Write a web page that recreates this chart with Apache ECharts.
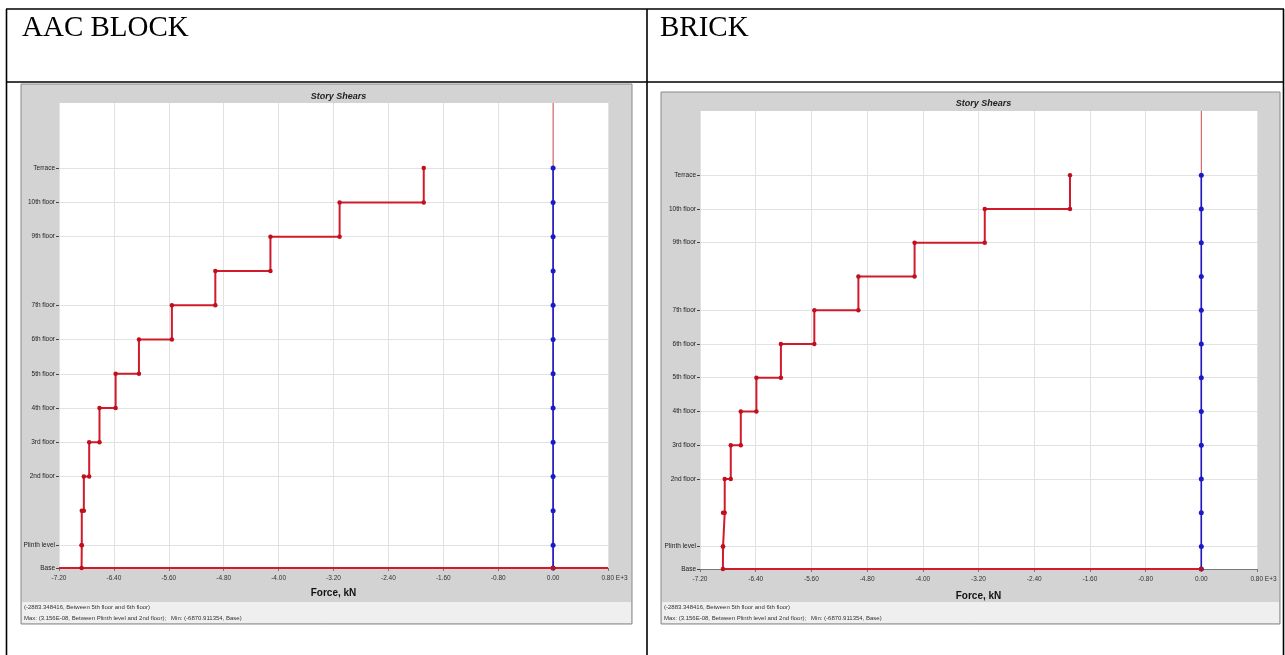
<!DOCTYPE html>
<html><head><meta charset="utf-8">
<script src="https://cdn.jsdelivr.net/npm/echarts@6/dist/echarts.min.js"></script>
<style>html,body{margin:0;padding:0;background:#fff}#c{width:1285px;height:655px}</style>
</head><body><div id="c"></div>
<script>
// ---- data ----
const levelNames = ['Base','Plinth level','1st floor','2nd floor','3rd floor','4th floor','5th floor','6th floor','7th floor','8th floor','9th floor','10th floor','Terrace'];
const levelElev = [0, 2, 5, 8, 11, 14, 17, 20, 23, 26, 29, 32, 35];
const labeledLevels = ['Base','Plinth level','2nd floor','3rd floor','4th floor','5th floor','6th floor','7th floor','9th floor','10th floor','Terrace'];
// story shear (kN), story by story from Base upward (Plinth-Base ... Terrace-10th)
const aacShear = [-6871, -6868, -6838, -6760, -6610, -6375, -6035, -5555, -4922, -4119, -3111, -1885];
const brickShear = [-6871, -6869, -6845, -6758, -6614, -6390, -6038, -5558, -4925, -4118, -3110, -1886];
const xTickValues = [-7200, -6400, -5600, -4800, -4000, -3200, -2400, -1600, -800, 0, 800];
const yAxisTop = 40.7;
const cellTitles = ['AAC BLOCK', 'BRICK'];
const chartTitle = 'Story Shears';
const xAxisName = 'Force, kN';
const statusLines = ['(-2883.348416, Between 5th floor and 6th floor)',
  'Max: (3.156E-08, Between Plinth level and 2nd floor);   Min: (-6870.911354, Base)'];

// ---- helpers ----
function stepPath(shear) {
  const pts = [];
  for (let i = shear.length - 1; i >= 0; i--) {
    pts.push([shear[i], levelElev[i + 1]]);
    pts.push([shear[i], levelElev[i]]);
  }
  pts.push([0, levelElev[0]]);
  return pts;
}
const zeroPath = levelElev.map(e => [0, e]);
const labeledElev = labeledLevels.map(n => levelElev[levelNames.indexOf(n)]);
const xMin = xTickValues[0], xMax = xTickValues[xTickValues.length - 1];

const RED = '#d01c2a', RED_DOT = '#c0101e', BLUE = '#1a1ac8', ZERO_RED = '#d65050';
const lblFont = 'Liberation Sans, Arial, sans-serif';

const panels = [
  { px: 21, py: 84, pw: 611, ph: 540, gl: 59, gt: 103, gw: 549, gh: 465, nameGap: 20, titleY: 87, fullBase: true },
  { px: 661, py: 92, pw: 619, ph: 532, gl: 700, gt: 111, gw: 557, gh: 458, nameGap: 22, titleY: 94, fullBase: false }
];

function xAxisOpt(i) {
  return {
    type: 'value', gridIndex: i, min: xMin, max: xMax, interval: 800,
    name: xAxisName, nameLocation: 'middle', nameGap: panels[i].nameGap,
    nameTextStyle: { fontFamily: lblFont, fontWeight: 'bold', fontSize: 10, color: '#111' },
    axisLine: { show: true, onZero: false, lineStyle: { color: '#777', width: 1 } },
    axisTick: { show: true, length: 3, lineStyle: { color: '#777' } },
    axisLabel: {
      fontFamily: lblFont, fontSize: 6.5, color: '#333', margin: 7,
      formatter: v => {
        const s = (v / 1000).toFixed(2);
        return v === xMax ? '{e|' + s + ' E+3}' : s;
      },
      rich: { e: { fontFamily: lblFont, fontSize: 6.5, color: '#333', padding: [0, 0, 0, 13] } }
    },
    splitLine: { show: true, lineStyle: { color: '#e2e2e2', width: 1 } }
  };
}
function yAxisOpt(i) {
  return {
    type: 'value', gridIndex: i, min: 0, max: yAxisTop,
    axisLine: { show: false, onZero: false },
    axisTick: { show: true, length: 3, customValues: labeledElev, lineStyle: { color: '#444' } },
    axisLabel: {
      customValues: labeledElev, fontFamily: lblFont, fontSize: 6.5, color: '#222', margin: 4,
      formatter: v => levelNames[levelElev.indexOf(v)]
    },
    splitLine: { show: true, lineStyle: { color: '#e2e2e2', width: 1 } }
  };
}

const series = [];
[aacShear, brickShear].forEach((sh, i) => {
  // zero reference line at x = 0 over the full height (beneath data)
  series.push({
    type: 'line', xAxisIndex: i, yAxisIndex: i, silent: true, z: 2,
    data: [[0, 0], [0, yAxisTop]], symbol: 'none',
    lineStyle: { color: ZERO_RED, width: 1 }
  });
  if (panels[i].fullBase) {
    series.push({
      type: 'line', xAxisIndex: i, yAxisIndex: i, silent: true, z: 2,
      data: [[xMin, 0], [xMax, 0]], symbol: 'none',
      lineStyle: { color: RED, width: 2 }
    });
  }
  series.push({
    type: 'line', xAxisIndex: i, yAxisIndex: i, data: zeroPath, z: 3,
    symbol: 'circle', symbolSize: 5, showSymbol: true,
    lineStyle: { color: BLUE, width: 1.6 }, itemStyle: { color: BLUE }
  });
  series.push({
    type: 'line', xAxisIndex: i, yAxisIndex: i, data: stepPath(sh), z: 4,
    symbol: 'circle', symbolSize: 4.5, showSymbol: true,
    lineStyle: { color: RED, width: 2 }, itemStyle: { color: RED_DOT }
  });
});

const graphics = [];
// chart panels
panels.forEach((p, i) => {
  graphics.push({ type: 'rect', z: -10, shape: { x: p.px, y: p.py, width: p.pw, height: p.ph },
    style: { fill: '#d3d3d3', stroke: '#8a8a8a', lineWidth: 1 } });
  graphics.push({ type: 'rect', z: -9, shape: { x: p.px + 1, y: p.py + p.ph - 22, width: p.pw - 2, height: 21 },
    style: { fill: '#efefef' } });
  statusLines.forEach((t, k) => graphics.push({ type: 'text', z: -8, x: p.px + 3, y: p.py + p.ph - 20 + k * 11,
    style: { text: t, fontFamily: lblFont, fontSize: 6, fill: '#333' } }));
});
// table borders
const tl = { stroke: '#000', lineWidth: 1.6 };
graphics.push({ type: 'line', z: 10, shape: { x1: 6, y1: 9, x2: 1284, y2: 9 }, style: tl });
graphics.push({ type: 'line', z: 10, shape: { x1: 6, y1: 82, x2: 1284, y2: 82 }, style: tl });
graphics.push({ type: 'line', z: 10, shape: { x1: 6.5, y1: 9, x2: 6.5, y2: 655 }, style: tl });
graphics.push({ type: 'line', z: 10, shape: { x1: 647, y1: 9, x2: 647, y2: 655 }, style: tl });
graphics.push({ type: 'line', z: 10, shape: { x1: 1283.5, y1: 9, x2: 1283.5, y2: 655 }, style: tl });
const serif = 'Liberation Serif, Times New Roman, serif';
graphics.push({ type: 'text', z: 10, x: 22, y: 14, style: { text: cellTitles[0], fontFamily: serif, fontSize: 29, fill: '#000' } });
graphics.push({ type: 'text', z: 10, x: 660, y: 14, style: { text: cellTitles[1], fontFamily: serif, fontSize: 29, fill: '#000' } });

const option = {
  animation: false,
  backgroundColor: '#fff',
  title: panels.map(p => ({
    text: chartTitle, left: p.gl + p.gw / 2, top: p.titleY, textAlign: 'center',
    textStyle: { fontFamily: lblFont, fontSize: 9, fontWeight: 'bold', fontStyle: 'italic', color: '#222' }
  })),
  grid: panels.map(p => ({ left: p.gl, top: p.gt, width: p.gw, height: p.gh, show: true,
    backgroundColor: '#fff', borderWidth: 0, containLabel: false })),
  xAxis: [xAxisOpt(0), xAxisOpt(1)],
  yAxis: [yAxisOpt(0), yAxisOpt(1)],
  series: series,
  graphic: { elements: graphics }
};
const chart = echarts.init(document.getElementById('c'), null, { renderer: 'canvas' });
chart.setOption(option);
</script></body></html>
